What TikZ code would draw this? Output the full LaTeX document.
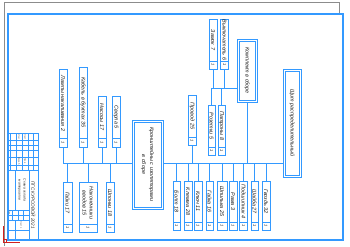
\documentclass[tikz,border=0pt]{standalone}
\usepackage{fontspec}
\setmainfont{Liberation Sans}
\usepackage{graphicx}
\usetikzlibrary{positioning,calc}
\definecolor{cadblue}{HTML}{3399FF}
\definecolor{sheetgray}{HTML}{8C8C8C}
\definecolor{ucsred}{HTML}{D02020}
\tikzset{
  lbl/.style   ={font=\fontsize{5.4}{6}\selectfont\itshape, text=black!90},
  item/.style  ={draw=cadblue, line width=0.7pt, inner sep=0pt, outer sep=0pt, lbl},
  cnt/.style   ={item, font=\fontsize{4}{4}\selectfont\itshape},
  bigbox/.style={item},
  inner/.style ={draw=cadblue, line width=0.5pt},
  wire/.style  ={draw=cadblue, line width=0.6pt},
  frame/.style ={draw=cadblue, line width=0.6pt},
  stamp/.style ={draw=cadblue, line width=0.45pt},
  stamptxt/.style={inner sep=0pt, font=\fontsize{4.6}{5}\selectfont\itshape, text=black!85},
  tiny/.style  ={inner sep=0pt, font=\fontsize{2.2}{2.4}\selectfont, text=black!70},
}
\newcommand{\vtext}[1]{\rotatebox{-90}{#1}}
% second (inner) outline of a large box
\newcommand{\innerline}[1]{%
  \draw[inner] ($(#1.south west)+(1.8,-1.8)$) rectangle ($(#1.north east)+(-1.8,1.8)$);}
% name/x/top/sep/bottom/width/text
\def\upperlist{%
  a1/63/69/138/147/8/Лампы накаливания 2,
  a2/83/67/138/147/8/Кабель в бухтах 35,
  a3/102/96/138/147/8/Насосы 17,
  a4/116/96/138/147/8/Сверла 5,
  f1/192/95/137/145/8/Провод 25,
  c1/213/19/61/69/8/Замок 7,
  c2/224.5/19/61/69/8/Выключатель 6,
  e1/211.5/105/147/155/7/Розетки 5,
  e2/221.5/105/147/155/7/Патроны 8,
  b1/67.5/182/224/232/9/Гайки 17,
  b2/88/182/224/232/18/{\shortstack{Наконечники\\вводов 15}},
  b3/110/182/224/232/8/Шпонки 18}
% name/x/width/text
\def\partlist{%
  r1/176.5/7/Болт 18, r2/188/8/Клемма 28, r3/198/8/Ключ 11,
  r4/209.5/7/Гайка 16, r5/222/10/Шпилька 25, r6/233/8/Рама 3,
  r7/243.5/8/Подшипник 4, r8/254.5/7/Шайба 27, r9/266/8/Гвоздь 32}
\newcommand{\stockitem}[7]{%
  \pgfmathsetmacro\hmain{#4-#3}\pgfmathsetmacro\hcnt{#5-#4}%
  \node[item, minimum width=#6pt, minimum height=\hmain pt] (#1) at (#2,{(#3+#4)/2}) {\vtext{#7}};
  \node[cnt, minimum width=#6pt, minimum height=\hcnt pt, below=0pt of #1] (#1n) {\vtext{1}};}

\begin{document}
\begin{tikzpicture}[x=1pt,y=-1pt]
\useasboundingbox (0,0) rectangle (350,246);
% sheet edge and frame
\draw[sheetgray, line width=0.5pt] (4,246) -- (4,2) -- (339,2) -- (339,13);
\draw[frame] (7,13) rectangle (343,240);
\draw[frame, line width=0.4pt] (8.2,14.2) rectangle (341.8,238.8);
\draw[ucsred, line width=0.5pt] (3,226) -- (3,242) -- (20,242);
\draw[ucsred, line width=0.4pt] (3,239) rectangle (6,242);

% title block
\draw[stamp] (7,133) rectangle (38,240);
\foreach \y in {140,145,150,157,165,170} \draw[stamp] (7,\y) -- (38,\y);
\foreach \x in {10,16,22,28,33} \draw[stamp] (\x,133) -- (\x,170);
\draw[stamp] (15,170) -- (15,210);
\draw[stamp] (29,170) -- (29,240);
\draw[stamp] (7,210) -- (29,210);
\foreach \y in {215,220,230} \draw[stamp] (7,\y) -- (29,\y);
\foreach \x in {12,18,23} \draw[stamp] (\x,210) -- (\x,220);
\draw[stamp] (15,220) -- (15,240);
\node[stamptxt] (tbcode) at (33.5,205) {\vtext{ПГС КУРСОВОЙ 2021}};
\node[stamptxt, font=\fontsize{3.4}{3.8}\selectfont\itshape] (tbname) at (22,190)
   {\vtext{\shortstack{Схема склада\\материалов}}};
\node[tiny] (tbl1) at (19,137) {\vtext{Изм.}};
\node[tiny] (tbl2) at (25,137) {\vtext{Лист}};
\node[tiny] (tbl3) at (19,161) {\vtext{Разраб.}};
\node[tiny] (tbl4) at (25,161) {\vtext{Пров.}};
\node[tiny] (tbl5) at (9.5,213) {\vtext{Лит.}};
\node[tiny] (tbl6) at (21,225) {\vtext{Лист 1}};

% large boxes
\node[bigbox, minimum width=31pt, minimum height=89pt] (store) at (147.5,164.5)
   {\vtext{\shortstack{Кронштейны с изоляторами\\в сборе}}};
\node[bigbox, minimum width=20pt, minimum height=63pt] (kit) at (247,70.5)
   {\vtext{Комплект в сборе}};
\node[bigbox, minimum width=18pt, minimum height=108pt] (shop) at (292,123)
   {\vtext{Щит распределительный}};
\innerline{store}
\innerline{kit}
\innerline{shop}

% small boxes
\foreach \n/\x/\t/\s/\b/\w/\txt in \upperlist {\stockitem{\n}{\x}{\t}{\s}{\b}{\w}{\txt}}
\foreach \n/\x/\w/\txt in \partlist {\stockitem{\n}{\x}{181}{222}{230}{\w}{\txt}}

% connectors
\coordinate (bus) at (63,163.5);
\coordinate (hub) at (211.5,88);
\draw[wire] (bus) -- (store.west |- bus);
\draw[wire] (store.east |- bus) -- (shop.west |- bus);
\draw[wire] (e1.north |- hub) -- (kit.west |- hub);
\draw[wire] (kit.south) -- (kit.south |- bus);
\foreach \n in {a1,a2,a3,a4,f1} \draw[wire] (\n n.south) -- (\n n.south |- bus);
\foreach \n in {b1,b2,b3,r1,r2,r3,r4,r5,r6,r7,r8,r9} \draw[wire] (\n.north) -- (\n.north |- bus);
\foreach \n in {c1,c2} \draw[wire] (\n n.south) -- (\n n.south |- hub);
\foreach \n in {e1,e2} \draw[wire] (\n.north) -- (\n.north |- hub);
\end{tikzpicture}
\end{document}
